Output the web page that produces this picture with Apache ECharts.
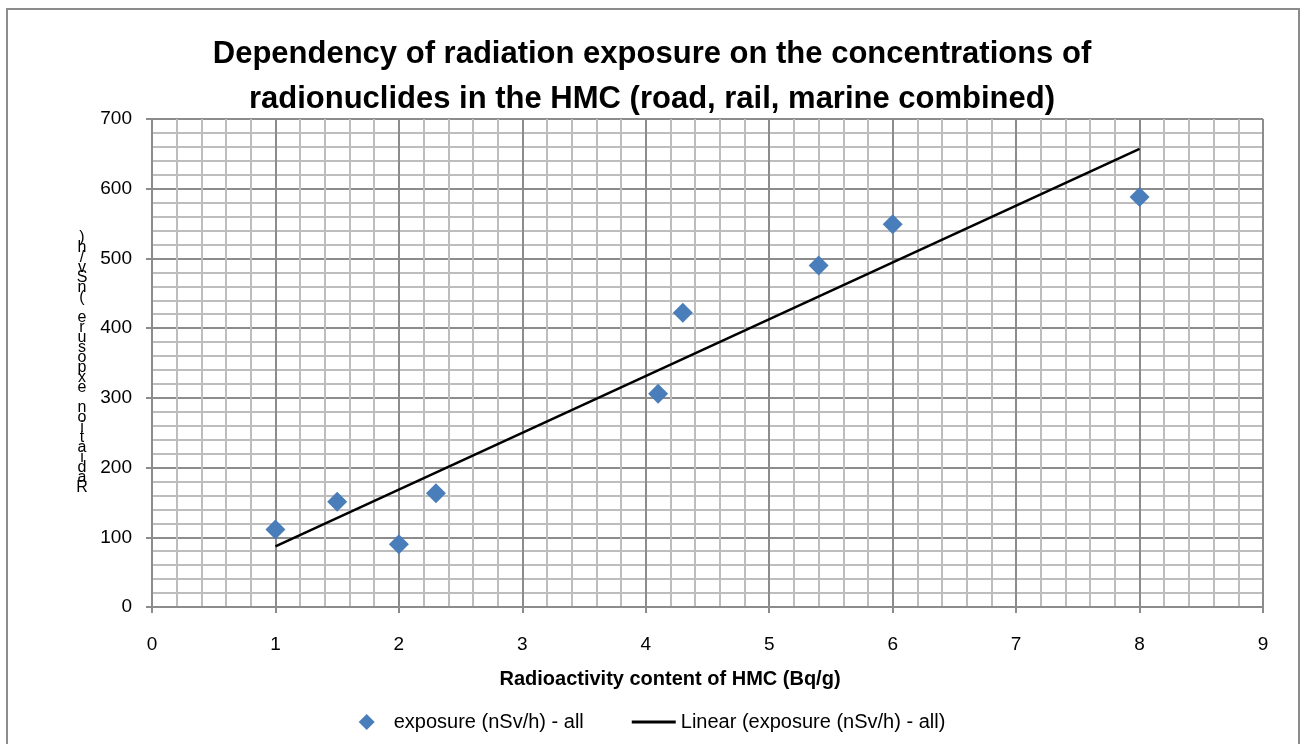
<!DOCTYPE html>
<html>
<head>
<meta charset="utf-8">
<script src="https://cdn.jsdelivr.net/npm/echarts@6/dist/echarts.min.js"></script>
<style>
html,body{margin:0;padding:0;background:#fff;}
#c{width:1304px;height:744px;}
</style>
</head>
<body>
<div id="c"></div>
<script>
// Data
const exposureX = [1, 1.5, 2, 2.3, 4.1, 4.3, 5.4, 6, 8];
const exposureY = [111, 151, 90, 163, 306, 422, 490, 549, 588];
const trendX = [1, 8];
const trendY = [87, 657];
const seriesNames = ['exposure (nSv/h) - all', 'Linear (exposure (nSv/h) - all)'];
const titleText = 'Dependency of radiation exposure on the concentrations of\nradionuclides in the HMC (road, rail, marine combined)';
const xAxisTitle = 'Radioactivity content of HMC (Bq/g)';
const yAxisTitle = 'Radiation exposure (nSv/h)';

const scatterData = exposureX.map((x, i) => [x, exposureY[i]]);
const trendData = trendX.map((x, i) => [x, trendY[i]]);
// Excel renders the rotated title as stacked reversed characters
const yNameStacked = yAxisTitle.split('').reverse().join('\n');

const FONT = 'Liberation Sans';
const chart = echarts.init(document.getElementById('c'));
chart.setOption({
  animation: false,
  backgroundColor: '#fff',
  textStyle: {fontFamily: FONT},
  title: {
    text: titleText,
    left: 'center',
    top: 27,
    textStyle: {fontFamily: FONT, fontWeight: 'bold', fontSize: 31, lineHeight: 45, color: '#000'}
  },
  graphic: [{
    type: 'rect',
    shape: {x: 7, y: 9, width: 1292, height: 745},
    style: {fill: 'none', stroke: '#8c8c8c', lineWidth: 2},
    silent: true
  }],
  grid: {left: 152, right: 41, top: 119, bottom: 137},
  legend: {
    top: 707,
    left: 'center',
    itemGap: 48,
    itemWidth: 44,
    itemHeight: 16,
    symbolKeepAspect: true,
    textStyle: {fontFamily: FONT, fontSize: 20, color: '#000'},
    data: [
      {name: seriesNames[0], icon: 'path://M0,-8 L8,0 L0,8 L-8,0 Z', itemStyle: {color: '#4a7ebb'}},
      {name: seriesNames[1], icon: 'path://M0,0 L44,0 L44,3 L0,3 Z', itemStyle: {color: '#000'}}
    ]
  },
  xAxis: {
    type: 'value', min: 0, max: 9, interval: 1,
    name: xAxisTitle, nameLocation: 'middle', nameGap: 62,
    nameTextStyle: {fontFamily: FONT, fontWeight: 'bold', fontSize: 20, color: '#000', padding: [0, 75, 0, 0]},
    axisLine: {show: true, lineStyle: {color: '#8c8c8c', width: 2}},
    axisTick: {show: true, length: 6, lineStyle: {color: '#8c8c8c', width: 2}},
    axisLabel: {fontSize: 19, color: '#000', margin: 28},
    splitLine: {show: true, lineStyle: {color: '#8c8c8c', width: 2}},
    minorTick: {show: false, splitNumber: 5},
    minorSplitLine: {show: true, lineStyle: {color: '#bdbdbd', width: 2}}
  },
  yAxis: {
    type: 'value', min: 0, max: 700, interval: 100,
    name: yNameStacked, nameLocation: 'middle', nameGap: 70, nameRotate: 0,
    nameTextStyle: {fontFamily: FONT, fontSize: 16, lineHeight: 10, color: '#000', align: 'center', verticalAlign: 'middle'},
    axisLine: {show: true, lineStyle: {color: '#8c8c8c', width: 2}},
    axisTick: {show: true, length: 6, lineStyle: {color: '#8c8c8c', width: 2}},
    axisLabel: {fontSize: 19, color: '#000', margin: 20},
    splitLine: {show: true, lineStyle: {color: '#8c8c8c', width: 2}},
    minorTick: {show: false, splitNumber: 5},
    minorSplitLine: {show: true, lineStyle: {color: '#bdbdbd', width: 2}}
  },
  series: [
    {
      name: seriesNames[0], type: 'scatter', data: scatterData,
      symbol: 'diamond', symbolSize: 20,
      itemStyle: {color: '#4a7ebb', opacity: 1}, z: 3
    },
    {
      name: seriesNames[1], type: 'line', data: trendData,
      symbol: 'none', lineStyle: {color: '#000', width: 2.5},
      itemStyle: {color: '#000'}, z: 2
    }
  ]
});
</script>
</body>
</html>
